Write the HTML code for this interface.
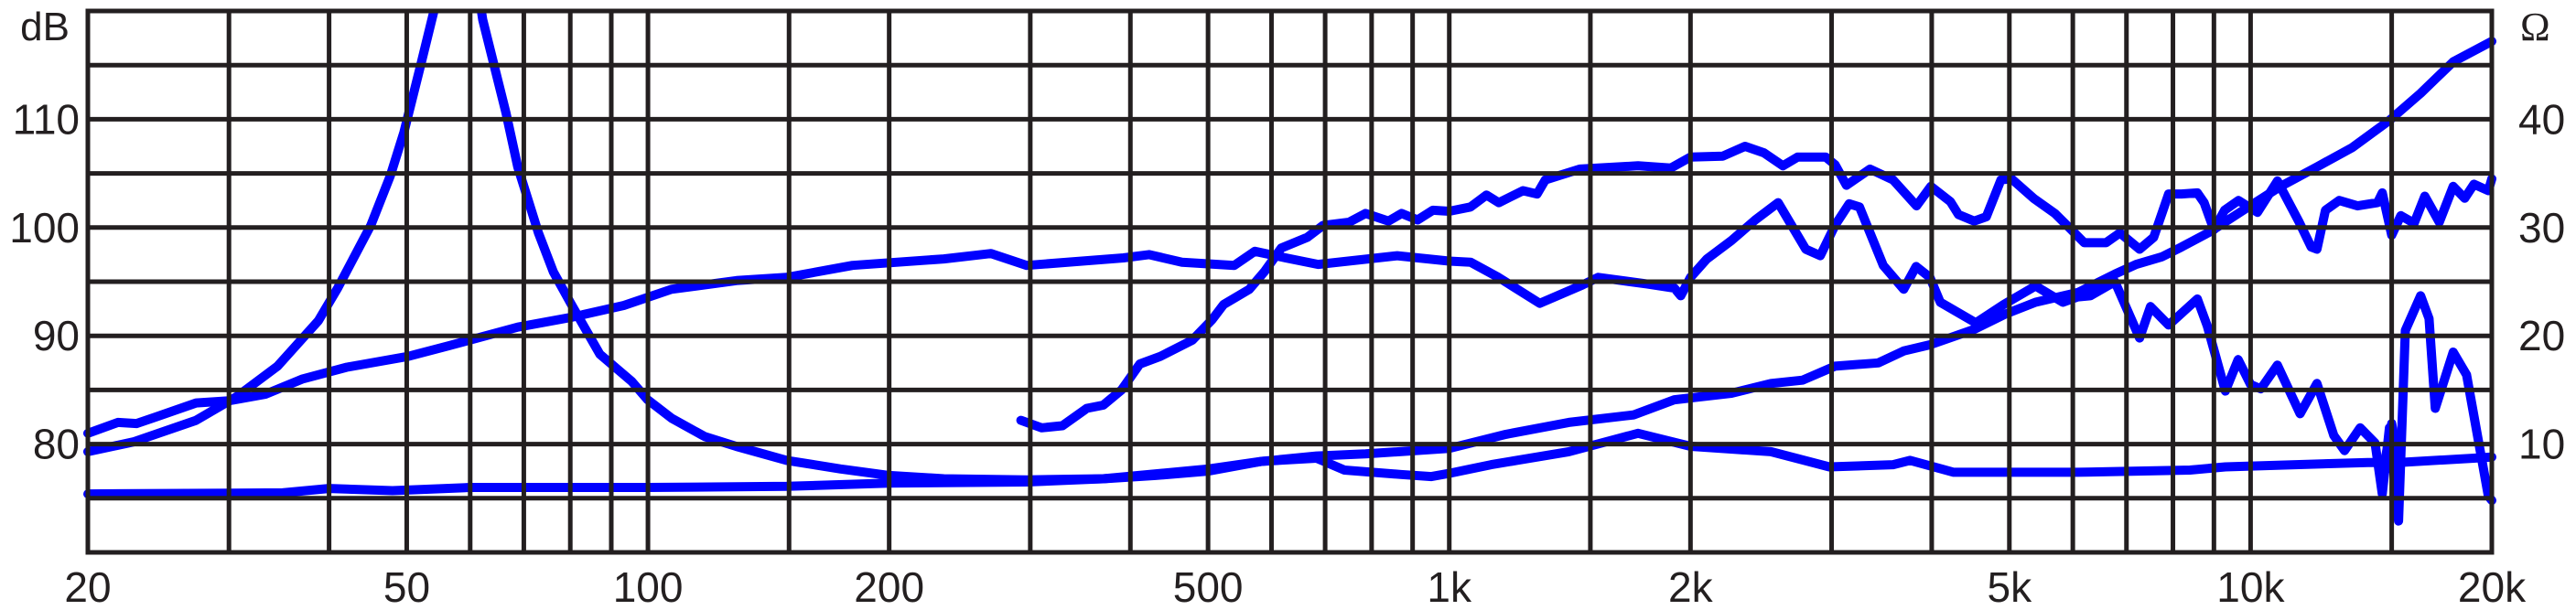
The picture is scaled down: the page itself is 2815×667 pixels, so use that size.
<!DOCTYPE html>
<html>
<head>
<meta charset="utf-8">
<style>
  html,body{margin:0;padding:0;background:#fff;}
  svg{display:block;}
  text{font-family:"Liberation Sans",sans-serif;fill:#231f20;}
</style>
</head>
<body>
<svg id="chart" width="2815" height="667" viewBox="0 0 2815 667" xmlns="http://www.w3.org/2000/svg"></svg>
<script>
// ---- chart data ----
const gridFreqs = [20,30,40,50,60,70,80,90,100,150,200,300,400,500,600,700,800,900,1000,1500,2000,3000,4000,5000,6000,7000,8000,9000,10000,15000,20000];
const xTickFreqs = [20,50,100,200,500,1000,2000,5000,10000,20000];
const xTickLabels = ["20","50","100","200","500","1k","2k","5k","10k","20k"];
const dbGridValues = [70,75,80,85,90,95,100,105,110,115,120];
const dbTickValues = [80,90,100,110];
const dbTickLabels = ["80","90","100","110"];
const ohmTickValues = [10,20,30,40];
const ohmTickLabels = ["10","20","30","40"];

// impedance (ohms); null = break where curve leaves the chart
const impFreq = [20,22.8,27.3,30.7,34.5,38.8,41,45.1,47.7,49.6,52,54.2,55.5,null,60.5,62.2,66.5,68.8,73,76.2,80.1,87.1,95.4,99.9,107,117.7,128.8,149,174,200,234,297,370,430,500,583,683,786,1000,1177,1410,1700,1910,2250,2520,2760,3030,3430,3690,3990,4520,4940,5390,6090,6770,7200,7750,8200,8900,9700,10900,12100,13400,14900,16300,17900,20000];
const impOhm = [9.3,10.2,12.2,14.4,17.2,21.4,24.4,30.2,34.8,38.8,44.9,50.3,56,null,55,49.2,40.6,35.6,29.5,25.9,23.0,18.3,15.8,14.1,12.4,10.7,9.8,8.5,7.7,7.1,6.8,6.7,6.8,7.1,7.5,8.4,8.9,9.1,9.6,10.9,12.0,12.7,14.1,14.7,15.6,15.9,17.2,17.5,18.6,19.2,20.6,22.0,23.1,24.0,25.7,26.6,27.3,28.2,29.6,31.4,33.8,35.6,37.4,39.9,42.4,45.3,47.2];

// SPL curve 1 (dB)
const spl1Freq = [20,21.8,23,24.3,27.3,30,33.3,37,42.1,50.2,56.5,68.8,80.1,93.3,107,129,149,180,234,268,297,392,422,464,539,572,625,686,861,1000,1063,1152,1297,1466,1534,1763,1910,1945,2000,2097,2250,2409,2573,2785,2904,3030,3155,3250,3480,3690,3825,3980,4100,4540,4920,5390,5830,6090,6310,6770,7270,7500,7900,8580,8830,9300,9650,10000,10300,10800,11530,12100,12700,13100,13700,14300,14600,14900,15300,15600,16300,16700,17000,17900,18600,19800,20000];
const spl1Db = [81.0,82.0,81.9,82.5,83.8,84.0,84.6,86.0,87.1,88.1,89.1,90.8,91.7,92.8,94.3,95.1,95.4,96.5,97.1,97.6,96.5,97.2,97.5,96.8,96.5,97.8,97.2,96.6,97.4,96.9,96.8,95.4,93.0,94.7,95.4,94.8,94.4,93.7,95.4,97.1,98.8,100.7,102.3,98.0,97.4,100.2,102.2,101.9,96.5,94.3,96.4,95.4,93.1,91.2,92.9,94.6,93.1,93.6,93.7,95.0,89.8,92.7,91.0,93.4,90.9,84.9,87.8,85.5,85.1,87.3,82.8,85.6,80.8,79.4,81.5,80.1,75.4,81.5,72.9,90.5,93.7,91.6,83.3,88.5,86.4,75.2,74.8];

// SPL curve 2 (dB), starts at ~290 Hz
const spl2Freq = [292,310,329,353,370,390,411,436,478,506,523,563,589,617,665,696,750,786,840,872,913,954,1000,1063,1113,1153,1236,1287,1318,1455,1720,1890,2000,2195,2340,2470,2608,2720,2950,3030,3130,3350,3580,3830,3990,4220,4320,4520,4680,4880,5030,5360,5700,5900,6200,6600,6870,7270,7570,7900,8200,8580,8750,9000,9280,9660,10200,10800,11500,11900,12100,12400,12900,13600,14400,14600,15000,15400,16000,16500,17200,17900,18500,19000,19800,20000];
const spl2Db = [82.2,81.5,81.7,83.3,83.6,85.0,87.4,88.1,89.6,91.5,92.9,94.3,96.0,98.1,99.1,100.2,100.5,101.3,100.6,101.3,100.7,101.6,101.5,101.9,103.0,102.3,103.4,103.1,104.4,105.4,105.7,105.5,106.5,106.6,107.5,106.9,105.7,106.5,106.5,105.8,103.9,105.4,104.4,102.0,103.8,102.4,101.2,100.6,101.0,104.4,104.5,102.7,101.3,100.2,98.6,98.6,99.5,98.0,99.1,103.1,103.1,103.2,102.3,99.8,101.6,102.5,101.4,104.3,100.5,98.2,98.0,101.6,102.5,102.0,102.3,103.2,99.3,101.1,100.4,102.9,100.5,103.8,102.7,104.0,103.4,104.5];

// low flat curve (dB)
const lowFreq = [20,35,40,48,60,100,149,200,297,370,500,583,683,740,870,950,1000,1128,1410,1720,2000,2520,2980,3580,3760,4260,6090,8400,9300,14000,14700,15000,15300,19000,20000];
const lowDb = [75.4,75.5,75.9,75.7,76.0,76.0,76.1,76.4,76.5,76.8,77.7,78.4,78.7,77.6,77.2,77.0,77.3,78.1,79.3,81.0,79.8,79.3,77.9,78.1,78.5,77.4,77.4,77.6,77.9,78.3,78.3,81.9,78.3,78.7,78.8];

// ---- geometry ----
const X0 = 96, X1 = 2723, Y0 = 12, Y1 = 604;
const F0 = 20, F1 = 20000, DB0 = 70, DB1 = 120, OHM0 = 0, OHM1 = 50;
const xOf = f => X0 + (Math.log10(f) - Math.log10(F0)) / (Math.log10(F1) - Math.log10(F0)) * (X1 - X0);
const yDb = v => Y1 - (v - DB0) / (DB1 - DB0) * (Y1 - Y0);
const yOhm = v => Y1 - (v - OHM0) / (OHM1 - OHM0) * (Y1 - Y0);
const NS = "http://www.w3.org/2000/svg";
const svg = document.getElementById('chart');
function mk(tag, attrs){ const e = document.createElementNS(NS, tag); for (const k in attrs) e.setAttribute(k, attrs[k]); return e; }

// clip
const defs = mk('defs', {});
const cp = mk('clipPath', {id:'plotclip'});
cp.appendChild(mk('rect', {x:X0-8, y:Y0, width:X1-X0+16, height:Y1-Y0+40}));
defs.appendChild(cp);
svg.appendChild(defs);

// series
const seriesG = mk('g', {'clip-path':'url(#plotclip)'});


svg.appendChild(seriesG);
function pathFrom(freqs, vals, yf){
  let d = '', pen = false;
  for (let i = 0; i < freqs.length; i++){
    if (freqs[i] === null || vals[i] === null){ pen = false; continue; }
    const px = xOf(freqs[i]).toFixed(1), py = yf(vals[i]).toFixed(1);
    d += (pen ? 'L' : 'M') + px + ',' + py + ' ';
    pen = true;
  }
  return d;
}
function addSeries(name, freqs, vals, yf){
  const p = mk('path', {d: pathFrom(freqs, vals, yf), fill:'none', stroke:'#0000ff', 'stroke-width':'10', 'stroke-linejoin':'round', 'stroke-linecap':'round'});
  
  
  seriesG.appendChild(p);
}
addSeries('impedance-curve', impFreq, impOhm, yOhm);
addSeries('spl-curve-1', spl1Freq, spl1Db, yDb);
addSeries('spl-curve-2', spl2Freq, spl2Db, yDb);
addSeries('low-level-curve', lowFreq, lowDb, yDb);

// grid on top
const gridG = mk('g', {stroke:'#231f20', 'stroke-width':'5', fill:'none'});


svg.appendChild(gridG);
gridFreqs.forEach(f => {
  const x = xOf(f);
  const l = mk('line', {x1:x, x2:x, y1:Y0, y2:Y1});
  
  
  gridG.appendChild(l);
});
dbGridValues.forEach(v => {
  const y = yDb(v);
  const l = mk('line', {x1:X0-2.5, x2:X1+2.5, y1:y, y2:y});
  
  
  gridG.appendChild(l);
});

// labels
function addText(str, x, y, anchor, size, name, family){
  const t = mk('text', {x:x, y:y, 'text-anchor':anchor, 'font-size':size});
  if (family) t.setAttribute('style', 'font-family:' + family);
  t.textContent = str;
  
  
  svg.appendChild(t);
}
xTickFreqs.forEach((f, i) => addText(xTickLabels[i], xOf(f), 658, 'middle', 46, 'x-tick-label'));
dbTickValues.forEach((v, i) => addText(dbTickLabels[i], 87, yDb(v) + 16, 'end', 46, 'db-tick-label'));
ohmTickValues.forEach((v, i) => addText(ohmTickLabels[i], 2752, yOhm(v) + 16, 'start', 46, 'ohm-tick-label'));
addText('dB', 76, 44, 'end', 44, 'left-axis-unit');
addText('Ω', 2754, 44, 'start', 44, 'right-axis-unit', '"Liberation Serif",serif');
</script>
</body>
</html>
